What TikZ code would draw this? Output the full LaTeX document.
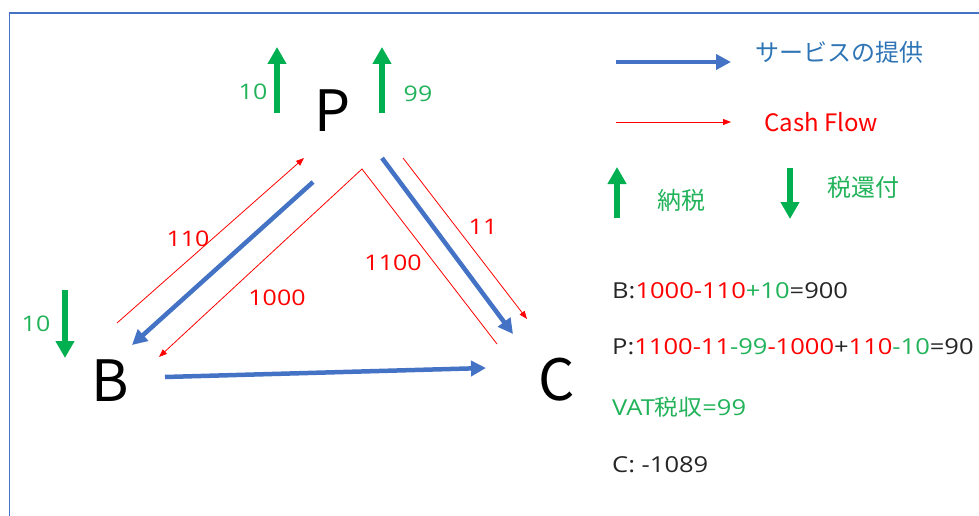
\documentclass[tikz,border=0pt]{standalone}
\usepackage{fontspec}
\setmainfont{Open Sans}
\newfontfamily\cjk{Noto Sans CJK JP}
\newfontfamily\eqfont[FakeStretch=1.16]{Open Sans}
\newfontfamily\cjkeq[FakeStretch=1.08]{Noto Sans CJK JP}
\usetikzlibrary{arrows.meta}
\definecolor{svcblue}{HTML}{4472C4}
\definecolor{lblblue}{HTML}{2E75B6}
\definecolor{cashred}{HTML}{FF0000}
\definecolor{taxgreen}{HTML}{00B050}
\definecolor{txtgreen}{HTML}{22B35A}
\definecolor{txtblack}{HTML}{262626}
\definecolor{framecol}{HTML}{4472C4}
\tikzset{
  svc/.style={draw=svcblue, line width=4.5pt, -{Triangle[length=15pt,width=15pt]}},
  cash/.style={draw=cashred, line width=0.8pt, -{Triangle[length=8pt,width=6pt]}},
  taxup/.style={draw=taxgreen, line width=6pt, -{Triangle[length=17pt,width=18pt]}},
  big/.style={font=\cjk\fontsize{57}{60}\selectfont, text=black, inner sep=0pt},
  lbl/.style={font=\eqfont\fontsize{21.5}{24}\selectfont, inner sep=0pt},
  legend/.style={font=\cjk\fontsize{24}{26}\selectfont, inner sep=0pt, anchor=west},
  eqn/.style={font=\eqfont\fontsize{22}{24}\selectfont, inner sep=0pt, anchor=west, text=txtblack},
}
\begin{document}
\begin{tikzpicture}[x=1pt,y=-1pt]
\useasboundingbox (0,0) rectangle (979,516);
\draw[framecol, line width=1.5pt] (9.5,13) rectangle (1000,540);

% main nodes
\node[big] (P) at (333,111) {P};
\node[big] (B) at (110,381) {B};
\node[big] (C) at (557,380) {C};

% connector endpoints
\coordinate (pb1) at (313,182); \coordinate (pb2) at (132,345);
\coordinate (bp1) at (117,323); \coordinate (bp2) at (304,158);
\coordinate (cp1) at (497,344); \coordinate (apex) at (362,169); \coordinate (cb2) at (159,357);
\coordinate (pc1) at (382,158); \coordinate (pc2) at (513,334);
\coordinate (r11a) at (403,158); \coordinate (r11b) at (527,319);
\coordinate (bc1) at (165,377); \coordinate (bc2) at (486,368);

\draw[svc] (pb1) -- (pb2);
\draw[svc] (pc1) -- (pc2);
\draw[svc] (bc1) -- (bc2);
\draw[cash] (bp1) -- (bp2);
\draw[cash] (cp1) -- (apex) -- (cb2);
\draw[cash] (r11a) -- (r11b);

\node[lbl, text=cashred] (l110) at (188,239) {110};
\node[lbl, text=cashred] (l1000) at (277,298) {1000};
\node[lbl, text=cashred] (l1100) at (393,263) {1100};
\node[lbl, text=cashred] (l11) at (483,227) {11};

% tax arrows
\coordinate (tl1) at (277,113); \coordinate (tl2) at (277,47);
\coordinate (tr1) at (382,113); \coordinate (tr2) at (382,47);
\coordinate (tb1) at (65,290); \coordinate (tb2) at (65,358);
\draw[taxup] (tl1) -- (tl2);
\draw[taxup] (tr1) -- (tr2);
\draw[taxup] (tb1) -- (tb2);
\node[lbl, text=txtgreen] (t10p) at (253,92) {10};
\node[lbl, text=txtgreen] (t99) at (418,94) {99};
\node[lbl, text=txtgreen] (t10b) at (36,324) {10};

% legend
\coordinate (lg1a) at (616,62); \coordinate (lg1b) at (731,62);
\draw[svc] (lg1a) -- (lg1b);
\node[legend, text=lblblue] (lgsvc) at (755,52) {サービスの提供};
\coordinate (lg2a) at (616,122); \coordinate (lg2b) at (731,122);
\draw[cash] (lg2a) -- (lg2b);
\node[legend, text=cashred] (lgcash) at (764,122) {Cash Flow};
\coordinate (lg3a) at (617,218); \coordinate (lg3b) at (617,167);
\draw[taxup] (lg3a) -- (lg3b);
\node[legend, text=txtgreen] (lgtax) at (657,200) {納税};
\coordinate (lg4a) at (790,168); \coordinate (lg4b) at (790,219);
\draw[taxup] (lg4a) -- (lg4b);
\node[legend, text=txtgreen] (lgref) at (827,187) {税還付};

% equations
\node[eqn] (eqB) at (612,291) {B:\textcolor{cashred}{1000-110}\textcolor{txtgreen}{+10}=900};
\node[eqn] (eqP) at (612,347) {P:\textcolor{cashred}{1100-11}\textcolor{txtgreen}{-99}\textcolor{cashred}{-1000}+\textcolor{cashred}{110}\textcolor{txtgreen}{-10}=90};
\node[eqn, text=txtgreen] (eqV) at (612,407) {VAT{\cjkeq\fontsize{22}{24}\selectfont 税収}=99};
\node[eqn] (eqC) at (612,465) {C: -1089};
\end{tikzpicture}
\end{document}
